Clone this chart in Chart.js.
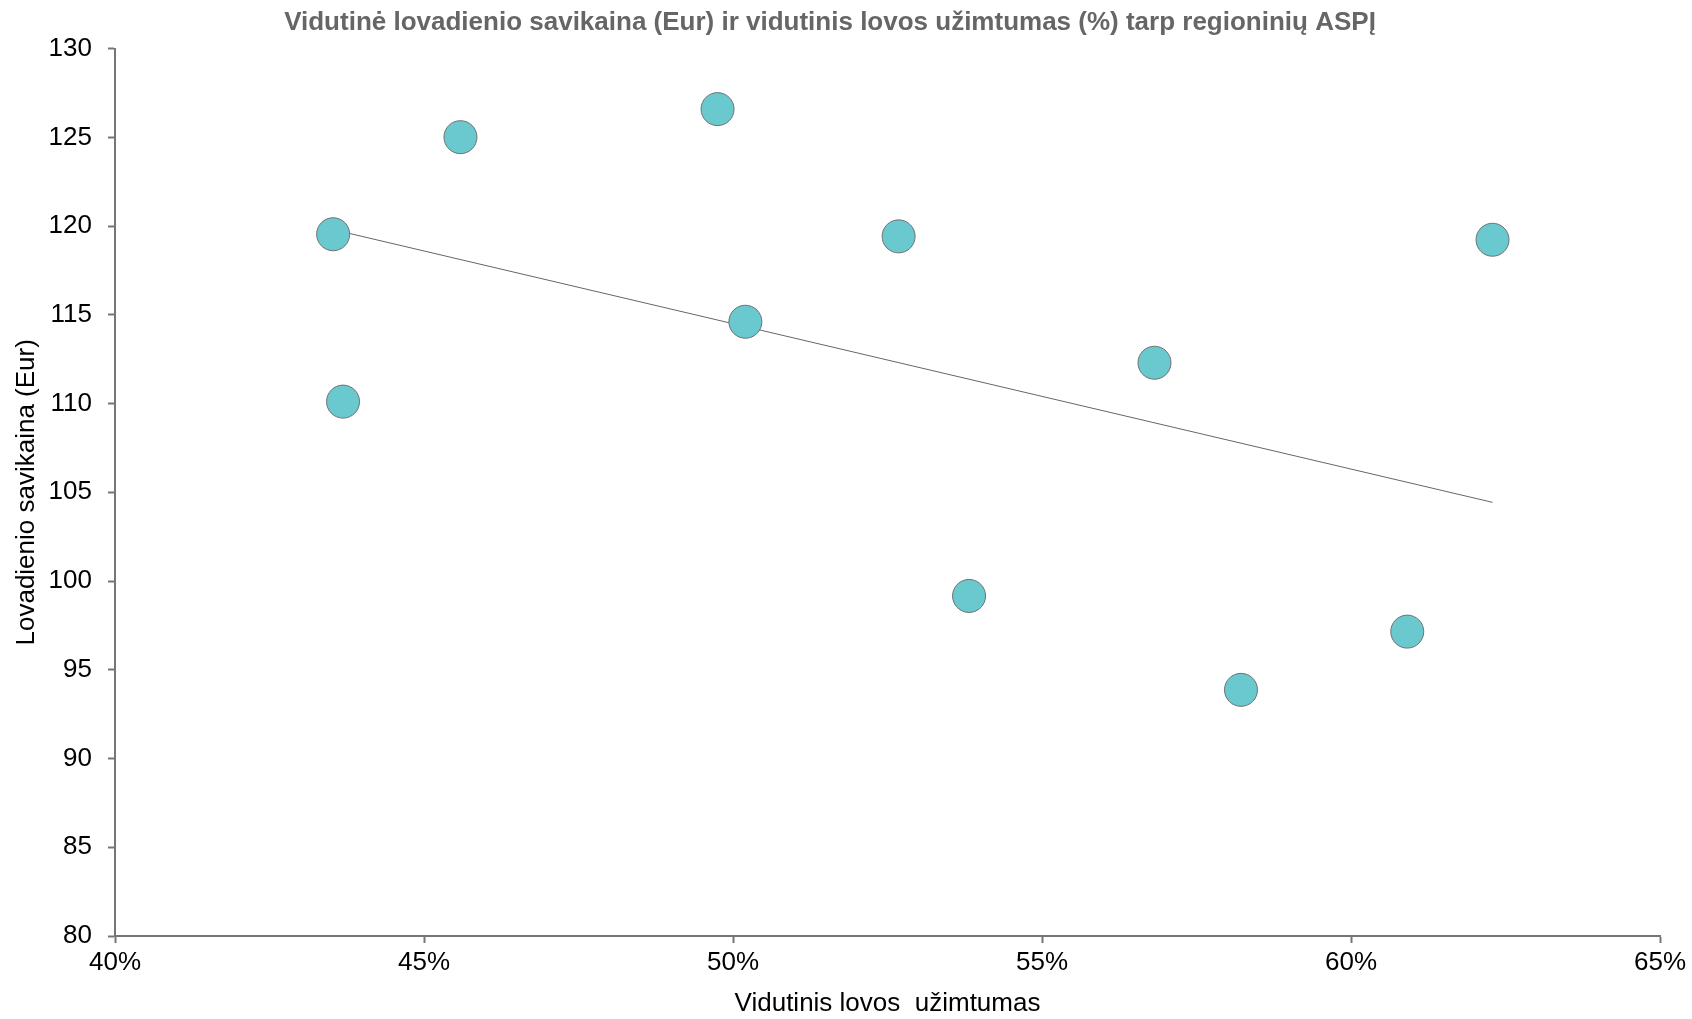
<!DOCTYPE html>
<html>
<head>
<meta charset="utf-8">
<script src="https://cdn.jsdelivr.net/npm/chart.js@4"></script>
<style>
  body { margin: 0; background: #fff; }
  #wrap { width: 1692px; height: 1019px; }
</style>
</head>
<body>
<div id="wrap"><canvas id="myChart" width="1692" height="1019"></canvas></div>
<script>
// vidutinis lovos uzimtumas (%) ir lovadienio savikaina (Eur)
const occupancy = [43.53, 43.69, 45.59, 49.75, 50.20, 52.68, 53.82, 56.82, 58.22, 60.91, 62.29];
const bedDayCost = [119.54, 110.11, 125.01, 126.59, 114.61, 119.42, 99.16, 112.30, 93.87, 97.15, 119.23];

const xTicks = [40, 45, 50, 55, 60, 65];
const yTicks = [80, 85, 90, 95, 100, 105, 110, 115, 120, 125, 130];

const titleText = 'Vidutinė lovadienio savikaina (Eur) ir vidutinis lovos užimtumas (%) tarp regioninių ASPĮ';
const xTitle = 'Vidutinis lovos  užimtumas';
const yTitle = 'Lovadienio savikaina (Eur)';

const points = [];
for (let i = 0; i < occupancy.length; i += 1) {
  points.push({x: occupancy[i], y: bedDayCost[i]});
}

// linear trend like excel
function trendLine() {
  const n = occupancy.length;
  let mx = 0, my = 0;
  for (let i = 0; i < n; i += 1) { mx += occupancy[i]; my += bedDayCost[i]; }
  mx /= n; my /= n;
  let sxy = 0, sxx = 0;
  for (let i = 0; i < n; i += 1) {
    sxy += (occupancy[i] - mx) * (bedDayCost[i] - my);
    sxx += (occupancy[i] - mx) * (occupancy[i] - mx);
  }
  const k = sxy / sxx;
  const x1 = Math.min(...occupancy);
  const x2 = Math.max(...occupancy);
  return [{x: x1, y: my + k * (x1 - mx)}, {x: x2, y: my + k * (x2 - mx)}];
}

const font = 'Liberation Sans, Arial, sans-serif';
const axisColor = '#767676';

const ctx = document.getElementById('myChart').getContext('2d');
const myChart = new Chart(ctx, {
  type: 'scatter',
  data: {
    datasets: [{
      label: 'trend',
      data: trendLine(),
      showLine: true,
      borderColor: '#666666',
      borderWidth: 1,
      pointRadius: 0,
      order: 2
    },
    {
      label: 'ASPĮ',
      data: points,
      backgroundColor: '#6ac8cf',
      borderColor: '#707070',
      borderWidth: 1,
      pointRadius: 16.5,
      pointHoverRadius: 16.5,
      order: 1
    }]
  },
  options: {
    responsive: false,
    animation: false,
    layout: { padding: { right: 32, left: 0, top: 0, bottom: 0 } },
    plugins: {
      legend: { display: false },
      tooltip: { enabled: false },
      title: {
        display: true,
        text: titleText,
        color: '#666666',
        font: { family: font, size: 26, weight: 'bold', lineHeight: 1.1 },
        padding: { top: 9, bottom: 11 }
      }
    },
    scales: {
      x: {
        type: 'linear',
        min: 40,
        max: 65,
        afterBuildTicks: (axis) => { axis.ticks = xTicks.map(v => ({value: v})); },
        afterFit: (axis) => { axis.height = 83; },
        ticks: {
          color: '#000',
          font: { family: font, size: 26 },
          padding: 4,
          callback: (v) => v + '%'
        },
        grid: { drawOnChartArea: false, tickLength: 7, color: axisColor, tickWidth: 2 },
        border: { color: axisColor, width: 2 },
        title: {
          display: true,
          text: xTitle,
          color: '#000',
          font: { family: font, size: 26 },
          padding: { top: 0, bottom: 0 }
        }
      },
      y: {
        type: 'linear',
        min: 80,
        max: 130,
        afterBuildTicks: (axis) => { axis.ticks = yTicks.map(v => ({value: v})); },
        afterFit: (axis) => { axis.width = 115; },
        ticks: {
          color: '#000',
          font: { family: font, size: 26 },
          padding: 16
        },
        grid: { drawOnChartArea: false, tickLength: 7, color: axisColor, tickWidth: 2 },
        border: { color: axisColor, width: 2 },
        title: {
          display: true,
          text: yTitle,
          color: '#000',
          font: { family: font, size: 26 },
          padding: { top: 11, bottom: 0 }
        }
      }
    }
  }
});
</script>
</body>
</html>
